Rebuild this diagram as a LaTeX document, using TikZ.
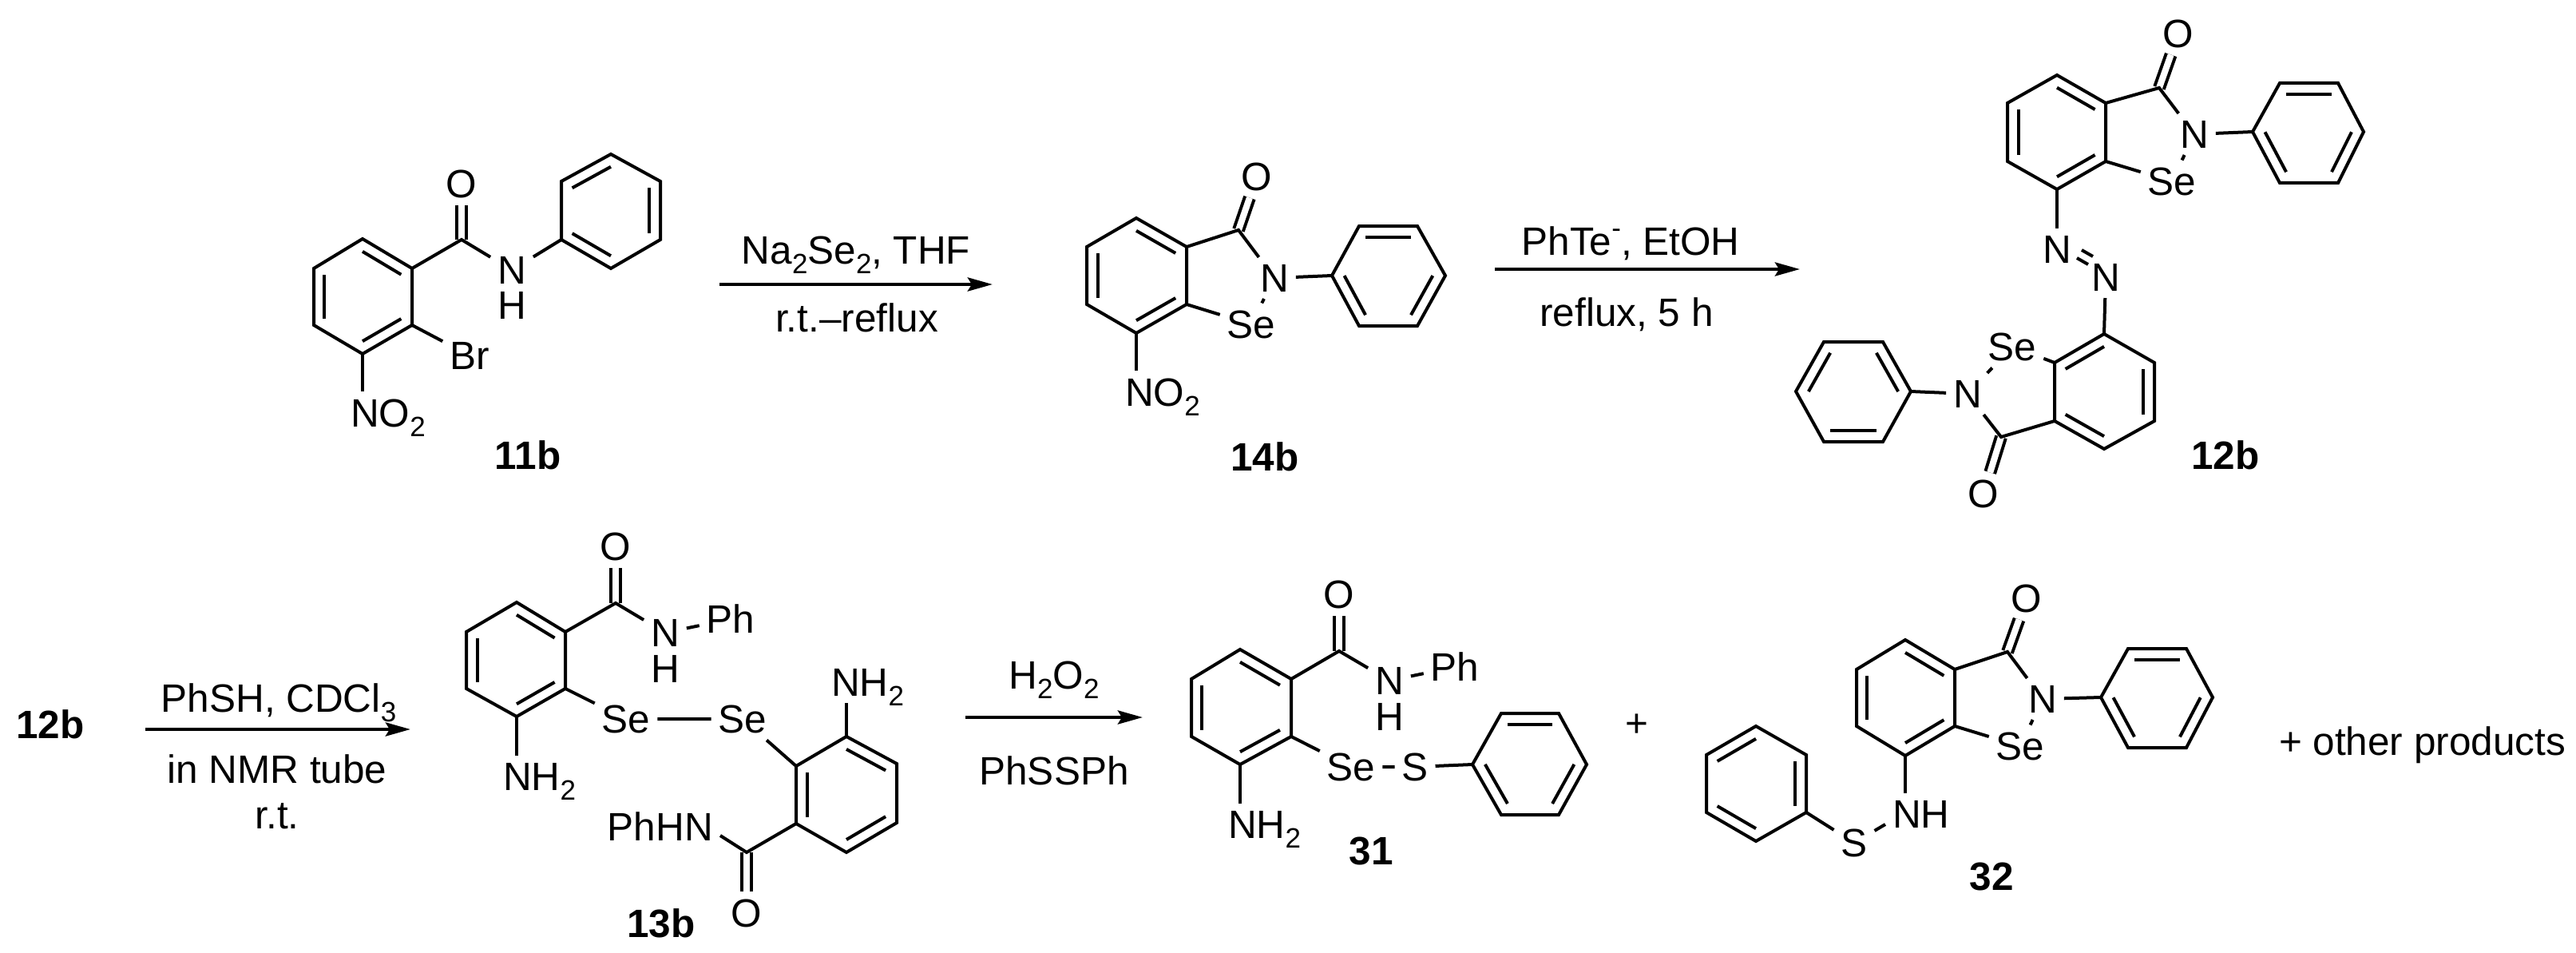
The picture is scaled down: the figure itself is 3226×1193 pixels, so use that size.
\documentclass[tikz,border=0pt]{standalone}
\usepackage{fontspec}
\setmainfont{Liberation Sans}
\usetikzlibrary{arrows.meta}
\usetikzlibrary{calc}

\newcommand{\chemsub}[1]{\raisebox{-12pt}[0pt][0pt]{\fontsize{35}{35}\selectfont #1}}
\newcommand{\chemsup}[1]{\raisebox{22pt}[0pt][0pt]{\fontsize{35}{35}\selectfont #1}}

% six ring from its corners, clockwise
\newcommand{\hexring}[7]{
    \coordinate (#1a) at #2;
    \coordinate (#1b) at #3;
    \coordinate (#1c) at #4;
    \coordinate (#1d) at #5;
    \coordinate (#1e) at #6;
    \coordinate (#1f) at #7;
    \coordinate (#1o) at ($(#1a)!.5!(#1d)$);
    \draw (#1a) -- (#1b) -- (#1c) -- (#1d) -- (#1e) -- (#1f) -- cycle;
}
\newcommand{\inbond}[3]{\draw ($(#1o)!.78!(#1#2)$) -- ($(#1o)!.78!(#1#3)$);}

\begin{document}
\begin{tikzpicture}[x=1pt,y=-1pt,line width=4pt,
        every node/.style={font=\fontsize{49.5}{50}\selectfont}]
        \tikzstyle{atom}=[inner sep=7pt]
        \tikzstyle{group}=[inner sep=7pt,anchor=base west]
        \tikzstyle{cond}=[inner sep=0pt,anchor=base]
        \tikzstyle{cmpd}=[inner sep=0pt,anchor=base,font=\fontsize{49.5}{50}\selectfont\bfseries]
        \tikzstyle{carbonyl}=[double,double distance=8pt]
        \tikzstyle{rxn}=[line width=4.5pt,-{Stealth[length=31pt,width=17pt,inset=5pt]}]
        \useasboundingbox (0,0) rectangle (3226,1193);

        % 11b
        \hexring{pa}{(454,299)}{(516,336)}{(516,407)}{(454,443)}{(393,407)}{(393,336)}
        \inbond{pa}{a}{b} \inbond{pa}{c}{d} \inbond{pa}{e}{f}
        \hexring{pb}{(765,193)}{(827,227)}{(827,300)}{(765,336)}{(703,300)}{(703,227)}
        \inbond{pb}{a}{f} \inbond{pb}{b}{c} \inbond{pb}{d}{e}
        \coordinate (pco) at (578,300);
        \node[atom] (po) at (578,230) {O};
        \node[atom] (pn) at (641,338) {N};
        \node[atom] (ph) at (641,382) {H};
        \node[atom] (pbr) at (588,445) {Br};
        \node[group] (pno) at (430,534) {NO\chemsub{2}};
        \draw[carbonyl] (pco) -- (po);
        \draw (pab) -- (pco) -- (pn) -- (pbe);
        \draw (pac) -- (pbr);
        \draw (pad) -- (pad |- pno.north);
        \node[cmpd] (lpa) at (661,587) {11b};

        \coordinate (aas) at (901,356);
        \coordinate (aae) at (1243,356);
        \draw[rxn] (aas) -- (aae);
        \node[cond] (taa) at (1072,330) {Na\chemsub{2}Se\chemsub{2}, THF};
        \node[cond] (tab) at (1073,415) {r.t.--reflux};

        % 14b
        \hexring{qa}{(1423,273)}{(1486,309)}{(1486,381)}{(1423,417)}{(1361,381)}{(1361,309)}
        \inbond{qa}{a}{b} \inbond{qa}{c}{d} \inbond{qa}{e}{f}
        \hexring{qb}{(1702,283)}{(1775,283)}{(1810,345)}{(1775,408)}{(1702,408)}{(1668,345)}
        \inbond{qb}{a}{b} \inbond{qb}{c}{d} \inbond{qb}{e}{f}
        \coordinate (qco) at (1551,288);
        \node[atom] (qo) at (1574,221) {O};
        \node[atom] (qn) at (1596,348) {N};
        \node[atom] (qse) at (1567,406) {Se};
        \node[group] (qno) at (1400,508) {NO\chemsub{2}};
        \draw[carbonyl] (qco) -- (qo);
        \draw (qab) -- (qco) -- (qn) -- (qbf);
        \draw (qn) -- (qse) -- (qac);
        \draw (qad) -- (qad |- qno.north);
        \node[cmpd] (lqa) at (1584,589) {14b};

        \coordinate (abs) at (1872,337);
        \coordinate (abe) at (2254,337);
        \draw[rxn] (abs) -- (abe);
        \node[cond] (tba) at (2042,319) {PhTe\chemsup{-}, EtOH};
        \node[cond] (tbb) at (2037,408) {reflux, 5 h};

        % 12b
        \hexring{ra}{(2576,94)}{(2637,129)}{(2637,202)}{(2576,237)}{(2514,202)}{(2514,129)}
        \inbond{ra}{a}{b} \inbond{ra}{c}{d} \inbond{ra}{e}{f}
        \hexring{rb}{(2855,104)}{(2928,104)}{(2960,165)}{(2928,229)}{(2855,229)}{(2821,165)}
        \inbond{rb}{a}{b} \inbond{rb}{c}{d} \inbond{rb}{e}{f}
        \coordinate (rco) at (2704,110);
        \node[atom] (ro) at (2728,42) {O};
        \node[atom] (rn) at (2748,168) {N};
        \node[atom] (rse) at (2720,227) {Se};
        \draw[carbonyl] (rco) -- (ro);
        \draw (rab) -- (rco) -- (rn) -- (rbf);
        \draw (rn) -- (rse) -- (rac);
        \node[atom] (rna) at (2576,312) {N};
        \node[atom] (rnb) at (2637,347) {N};
        \coordinate (rda) at (2607,313);
        \coordinate (rdb) at (2621,321);
        \coordinate (rdc) at (2601,323);
        \coordinate (rdd) at (2615,331);
        \draw (rda) -- (rdb);
        \draw (rdc) -- (rdd);
        \draw (rad) -- (rna);
        \hexring{sa}{(2635,418)}{(2698,454)}{(2698,527)}{(2635,562)}{(2573,527)}{(2573,454)}
        \inbond{sa}{a}{f} \inbond{sa}{b}{c} \inbond{sa}{d}{e}
        \hexring{sb}{(2284,428)}{(2358,428)}{(2393,490)}{(2358,553)}{(2284,553)}{(2249,490)}
        \inbond{sb}{a}{f} \inbond{sb}{b}{c} \inbond{sb}{d}{e}
        \draw (rnb) -- (saa);
        \coordinate (sco) at (2506,547);
        \node[atom] (so) at (2484,618) {O};
        \node[atom] (sn) at (2464,493) {N};
        \node[atom] (sse) at (2520,434) {Se};
        \draw[carbonyl] (sco) -- (so);
        \draw (sae) -- (sco) -- (sn) -- (sbc);
        \draw (sn) -- (sse) -- (saf);
        \node[cmpd] (lra) at (2787,587) {12b};

        % 12b to 13b
        \node[cmpd] (lrb) at (63,924) {12b};
        \coordinate (acs) at (182,913);
        \coordinate (ace) at (514,913);
        \draw[rxn] (acs) -- (ace);
        \node[cond] (tca) at (349,891) {PhSH, CDCl\chemsub{3}};
        \node[cond] (tcb) at (347,980) {in NMR tube};
        \node[cond] (tcc) at (347,1037) {r.t.};

        % 13b
        \hexring{ta}{(647,754)}{(708,791)}{(708,862)}{(647,897)}{(584,862)}{(584,791)}
        \inbond{ta}{a}{b} \inbond{ta}{c}{d} \inbond{ta}{e}{f}
        \hexring{ua}{(1060,922)}{(1123,956)}{(1123,1030)}{(1060,1067)}{(997,1031)}{(997,959)}
        \inbond{ua}{a}{b} \inbond{ua}{c}{d} \inbond{ua}{e}{f}
        \coordinate (tco) at (771,755);
        \node[atom] (to) at (771,684) {O};
        \node[atom] (tn) at (833,792) {N};
        \node[atom] (th) at (833,837) {H};
        \node[atom] (tph) at (915,775) {Ph};
        \node[group] (tnh) at (621,989) {NH\chemsub{2}};
        \node[atom] (tsa) at (784,900) {Se};
        \node[atom] (tsb) at (930,900) {Se};
        \draw[carbonyl] (tco) -- (to);
        \draw (tab) -- (tco) -- (tn) -- (tph);
        \draw (tad) -- (tad |- tnh.north);
        \draw (tac) -- (tsa) -- (tsb) -- (uaf);
        \coordinate (uco) at (935,1067);
        \node[atom] (uo) at (935,1143) {O};
        \node[group] (unh) at (1032,871) {NH\chemsub{2}};
        \node[group,anchor=base east] (uph) at (902,1052) {PhHN};
        \draw[carbonyl] (uco) -- (uo);
        \draw (uae) -- (uco) -- ([yshift=6pt]uph.base east);
        \draw (uaa) -- (uaa |- unh.south);
        \node[cmpd] (lta) at (828,1173) {13b};

        \coordinate (ads) at (1209,898);
        \coordinate (ade) at (1431,898);
        \draw[rxn] (ads) -- (ade);
        \node[cond] (tda) at (1320,862) {H\chemsub{2}O\chemsub{2}};
        \node[cond] (tdb) at (1320,982) {PhSSPh};

        % 31
        \hexring{va}{(1553,813)}{(1617,850)}{(1617,922)}{(1553,957)}{(1492,922)}{(1492,850)}
        \inbond{va}{a}{b} \inbond{va}{c}{d} \inbond{va}{e}{f}
        \hexring{vb}{(1880,893)}{(1952,893)}{(1987,957)}{(1952,1020)}{(1880,1020)}{(1844,957)}
        \inbond{vb}{a}{b} \inbond{vb}{c}{d} \inbond{vb}{e}{f}
        \coordinate (vco) at (1677,815);
        \node[atom] (vo) at (1677,744) {O};
        \node[atom] (vn) at (1740,852) {N};
        \node[atom] (vh) at (1740,897) {H};
        \node[atom] (vph) at (1822,835) {Ph};
        \node[atom] (vse) at (1692,960) {Se};
        \node[atom] (vs) at (1772,960) {S};
        \node[group] (vnh) at (1529,1049) {NH\chemsub{2}};
        \draw[carbonyl] (vco) -- (vo);
        \draw (vab) -- (vco) -- (vn) -- (vph);
        \draw (vac) -- (vse) -- (vs) -- (vbf);
        \draw (vad) -- (vad |- vnh.north);
        \node[cmpd] (lva) at (1717,1082) {31};

        \node[cond] (plus) at (2050,922) {+};

        % 32
        \hexring{wa}{(2386,801)}{(2448,838)}{(2448,909)}{(2386,946)}{(2325,909)}{(2325,838)}
        \inbond{wa}{a}{b} \inbond{wa}{c}{d} \inbond{wa}{e}{f}
        \hexring{wb}{(2665,812)}{(2738,812)}{(2771,873)}{(2738,936)}{(2665,936)}{(2631,873)}
        \inbond{wb}{a}{b} \inbond{wb}{c}{d} \inbond{wb}{e}{f}
        \hexring{wc}{(2199,909)}{(2262,945)}{(2262,1017)}{(2199,1053)}{(2137,1017)}{(2137,945)}
        \inbond{wc}{a}{f} \inbond{wc}{b}{c} \inbond{wc}{d}{e}
        \coordinate (wco) at (2514,816);
        \node[atom] (wo) at (2538,749) {O};
        \node[atom] (wn) at (2558,875) {N};
        \node[atom] (wse) at (2530,934) {Se};
        \node[group] (wnh) at (2361,1036) {NH};
        \node[atom] (ws) at (2322,1055) {S};
        \draw[carbonyl] (wco) -- (wo);
        \draw (wab) -- (wco) -- (wn) -- (wbf);
        \draw (wn) -- (wse) -- (wac);
        \draw (wad) -- (wad |- wnh.north);
        \draw (wcc) -- (ws) -- ([yshift=-13pt]wnh.west);
        \node[cmpd] (lwa) at (2494,1114) {32};

        \node[cond,anchor=base west] (toth) at (2852,945) {+ other products};
\end{tikzpicture}
\end{document}
